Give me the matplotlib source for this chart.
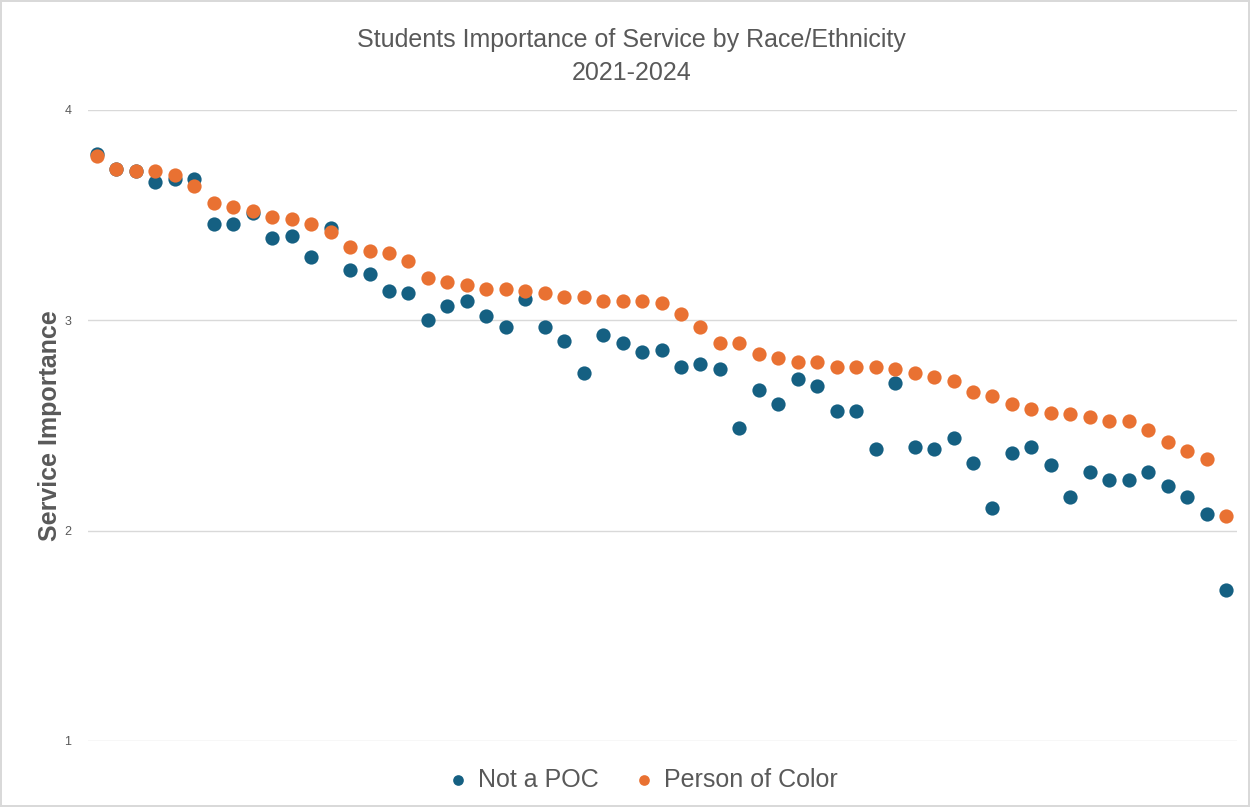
import matplotlib.pyplot as plt

# service rank (x) and mean importance (y) for each group
services = list(range(1, 60))
not_poc = [3.79, 3.72, 3.71, 3.66, 3.67, 3.67, 3.46, 3.46, 3.51, 3.39,
           3.40, 3.30, 3.44, 3.24, 3.22, 3.14, 3.13, 3.00, 3.07, 3.09,
           3.02, 2.97, 3.10, 2.97, 2.90, 2.75, 2.93, 2.89, 2.85, 2.86,
           2.78, 2.79, 2.77, 2.49, 2.67, 2.60, 2.72, 2.69, 2.57, 2.57,
           2.39, 2.70, 2.40, 2.39, 2.44, 2.32, 2.11, 2.37, 2.40, 2.31,
           2.16, 2.28, 2.24, 2.24, 2.28, 2.21, 2.16, 2.08, 1.72]
poc = [3.78, 3.72, 3.71, 3.71, 3.69, 3.64, 3.56, 3.54, 3.52, 3.49,
       3.48, 3.46, 3.42, 3.35, 3.33, 3.32, 3.28, 3.20, 3.18, 3.17,
       3.15, 3.15, 3.14, 3.13, 3.11, 3.11, 3.09, 3.09, 3.09, 3.08,
       3.03, 2.97, 2.89, 2.89, 2.84, 2.82, 2.80, 2.80, 2.78, 2.78,
       2.78, 2.77, 2.75, 2.73, 2.71, 2.66, 2.64, 2.60, 2.58, 2.56,
       2.555, 2.54, 2.52, 2.52, 2.48, 2.42, 2.38, 2.34, 2.07]
y_ticks = [1, 2, 3, 4]

plt.rcParams["font.family"] = ["Liberation Sans", "DejaVu Sans"]
text_grey = "#595959"

fig = plt.figure(figsize=(12.5, 8.07), dpi=100)
fig.patch.set_edgecolor("#D9D9D9")
fig.patch.set_linewidth(1.5)
ax = fig.add_axes([0.0704, 0.0818, 0.9192, 0.7819])

ax.scatter(services, not_poc, s=105, color="#156082", label="Not a POC", zorder=3,
           linewidths=0)
ax.scatter(services, poc, s=105, color="#E97132", label="Person of Color", zorder=3,
           linewidths=0)

ax.set_xlim(0.54, 59.56)
ax.set_ylim(1, 4)
ax.set_yticks(y_ticks)
ax.set_yticklabels([str(t) for t in y_ticks], color=text_grey, fontsize=9)
ax.tick_params(axis="y", length=0, pad=12)
ax.set_xticks([])
ax.grid(axis="y", color="#D9D9D9", linewidth=1)
ax.set_axisbelow(True)
for side in ax.spines:
    ax.spines[side].set_visible(False)

ax.set_ylabel("Service Importance", fontsize=18, fontweight="bold", color=text_grey,
              labelpad=2)

fig.text(0.505, 0.951, "Students Importance of Service by Race/Ethnicity",
         ha="center", va="center", fontsize=18, color=text_grey)
fig.text(0.505, 0.909, "2021-2024", ha="center", va="center", fontsize=18,
         color=text_grey)

fig.legend(loc="center", bbox_to_anchor=(0.513, 0.034), ncol=2, frameon=False,
           fontsize=18, labelcolor=text_grey, handlelength=1.0, handletextpad=0.3,
           columnspacing=1.3, markerscale=0.75)

fig.savefig("out.png", dpi=100)
